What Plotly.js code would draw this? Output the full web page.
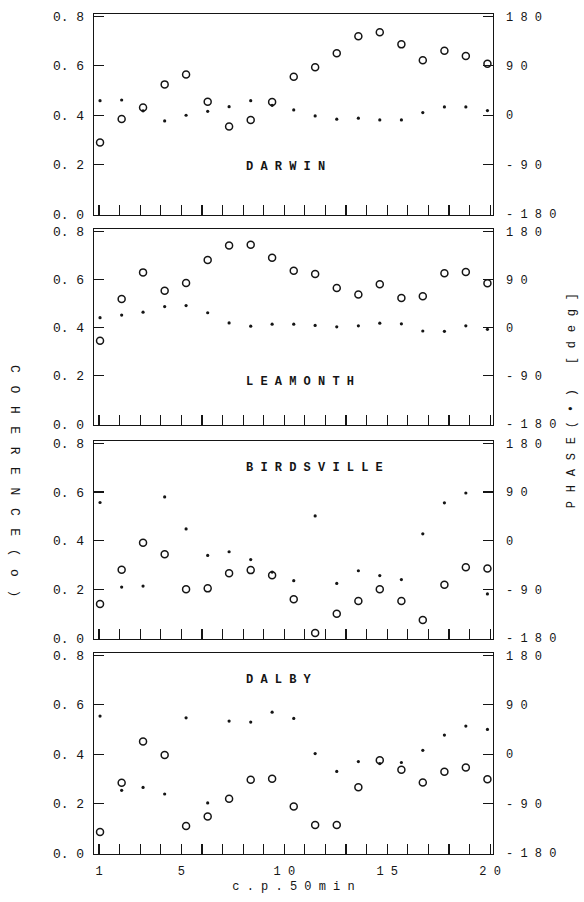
<!DOCTYPE html>
<html><head><meta charset="utf-8">
<script src="https://cdn.plot.ly/plotly-3.0.1.min.js"></script>
<style>html,body{margin:0;padding:0;background:#fff}</style>
</head><body>
<div id="chart" style="width:584px;height:902px"></div>
<script>
// frequency (c.p.50min) of each estimate
const freq = [1.05, 2.10, 3.14, 4.19, 5.23, 6.28, 7.32, 8.37, 9.41, 10.46, 11.50, 12.55, 13.60, 14.64, 15.69, 16.73, 17.78, 18.82, 19.87];
const stations = ['DARWIN', 'LEAMONTH', 'BIRDSVILLE', 'DALBY'];
const darwinCoh = [0.29, 0.385, 0.431, 0.525, 0.565, 0.455, 0.354, 0.381, 0.454, 0.556, 0.594, 0.651, 0.72, 0.736, 0.687, 0.623, 0.661, 0.64, 0.609];
const darwinPhase = [26.6, 27.8, 8, -10.3, 0, 7.2, 15.7, 26.6, 18, 9.7, -1.2, -7.2, -5.4, -8.5, -8.5, 4.8, 15.1, 15.1, 8.5];
const leamonthCoh = [0.346, 0.519, 0.630, 0.554, 0.586, 0.681, 0.742, 0.745, 0.691, 0.637, 0.623, 0.565, 0.538, 0.581, 0.524, 0.531, 0.626, 0.632, 0.585];
const leamonthPhase = [18.9, 23.7, 29.2, 39.5, 41.4, 28, 9.1, 3, 6.7, 6.7, 4.3, 1.8, 3.6, 8.5, 7.3, -6.1, -6.7, 3.6, -3];
const birdsvilleCoh = [0.14, 0.281, 0.392, 0.344, 0.2, 0.204, 0.266, 0.279, 0.258, 0.159, 0.021, 0.1, 0.152, 0.2, 0.152, 0.074, 0.219, 0.291, 0.286];
const birdsvillePhase = [70.7, -85.8, -84, 81, 21.7, -27.2, -20.5, -35, -58, -74, 45.9, -79, -55.6, -64.6, -71.9, 12.7, 70, 88.2, -98.5];
const dalbyCoh = [0.085, 0.285, 0.452, 0.397, 0.109, 0.148, 0.22, 0.297, 0.301, 0.188, 0.113, 0.113, 0.266, 0.376, 0.337, 0.286, 0.329, 0.346, 0.299];
const dalbyPhase = [69.5, -65.8, -60.4, -72.5, 66.4, -88.8, 60.4, 58.6, 76.7, 65.2, 1.2, -31.4, -13.3, -17, -15.1, 7.2, 35, 51.4, 45.3];

const cohTickVals = [0, 0.2, 0.4, 0.6, 0.8];
const cohTickText = ['0. 0', '0. 2', '0. 4', '0. 6', '0. 8'];
const phaseTickVals = [-180, -90, 0, 90, 180];
const phaseTickText = ['- 1 8 0', '- 9 0', '0', '9 0', '1 8 0'];
const xTickVals = [1,2,3,4,5,6,7,8,9,10,11,12,13,14,15,16,17,18,19,20];
const xTickText = ['1','','','','5','','','','','1 0','','','','','1 5','','','','','2 0'];

const cohSeries = [darwinCoh, leamonthCoh, birdsvilleCoh, dalbyCoh];
const phaseSeries = [darwinPhase, leamonthPhase, birdsvillePhase, dalbyPhase];

const INK = '#151515';
const FONT = 'Liberation Mono, DejaVu Sans Mono, monospace';
const cohRange = [-0.004, 0.81];
const phaseRange = [(cohRange[0] - 0.4) * 450, (cohRange[1] - 0.4) * 450];
const domains = [[0.7607, 1], [0.5107, 0.744], [0.256, 0.4917], [0, 0.2393]];
const labelPos = [0.237, 0.221, 0.862, 0.866];

const traces = [];
const layout = {
  width: 584, height: 902,
  margin: {l: 94, r: 91, t: 14, b: 48},
  paper_bgcolor: '#fff', plot_bgcolor: '#fff',
  showlegend: false,
  font: {family: FONT, color: INK, size: 12},
  annotations: []
};

for (let i = 0; i < 4; i++) {
  const xa = i === 0 ? 'x' : 'x' + (i + 1);
  const yl = i === 0 ? 'y' : 'y' + (2 * i + 1);
  const yr = 'y' + (2 * i + 2);
  traces.push({
    x: freq, y: cohSeries[i], xaxis: xa, yaxis: yl, type: 'scatter', mode: 'markers',
    marker: {symbol: 'circle-open', size: 7, color: INK, line: {width: 1.5, color: INK}},
    cliponaxis: false, hoverinfo: 'skip'
  });
  traces.push({
    x: freq, y: phaseSeries[i], xaxis: xa, yaxis: yr, type: 'scatter', mode: 'markers',
    marker: {symbol: 'circle', size: 3.2, color: INK},
    cliponaxis: false, hoverinfo: 'skip'
  });
  const xKey = i === 0 ? 'xaxis' : 'xaxis' + (i + 1);
  const ylKey = i === 0 ? 'yaxis' : 'yaxis' + (2 * i + 1);
  const yrKey = 'yaxis' + (2 * i + 2);
  layout[xKey] = {
    domain: [0, 1], anchor: yl, range: [0.757, 20.14],
    showline: true, mirror: true, linecolor: INK, linewidth: 1.2,
    showgrid: false, zeroline: false,
    ticks: 'inside', ticklen: 10, tickwidth: 1.2, tickcolor: INK,
    tickmode: 'array', tickvals: xTickVals, ticktext: xTickText,
    showticklabels: i === 3, ticklabelstandoff: 5,
    tickfont: {family: FONT, size: 12, color: INK}
  };
  if (i === 3) {
    layout[xKey].title = {text: 'c . p . 5 0 m i n', font: {family: FONT, size: 12, color: INK}, standoff: 4};
  }
  layout[ylKey] = {
    domain: domains[i], anchor: xa, range: cohRange,
    showline: true, mirror: true, linecolor: INK, linewidth: 1.2,
    showgrid: false, zeroline: false,
    ticks: 'inside', ticklen: 10, tickwidth: 1.2, tickcolor: INK,
    tickmode: 'array', tickvals: cohTickVals, ticktext: cohTickText,
    ticklabelstandoff: 6,
    tickfont: {family: FONT, size: 13, color: INK}
  };
  layout[yrKey] = {
    overlaying: yl, side: 'right', anchor: xa, range: phaseRange,
    showline: false, showgrid: false, zeroline: false,
    ticks: 'inside', ticklen: 10, tickwidth: 1.2, tickcolor: INK,
    tickmode: 'array', tickvals: phaseTickVals, ticktext: phaseTickText,
    ticklabelstandoff: 12,
    tickfont: {family: FONT, size: 12, color: INK}
  };
  layout.annotations.push({
    text: '<b>' + stations[i].split('').join(' ') + '</b>',
    xref: xa + ' domain', yref: yl + ' domain',
    x: 0.375, y: labelPos[i], xanchor: 'left', yanchor: 'middle',
    showarrow: false, font: {family: FONT, size: 12, color: INK}
  });
}

layout.annotations.push({
  text: 'C O H E R E N C E ( o )', textangle: 90,
  xref: 'paper', yref: 'paper', x: -0.2, y: 0.443,
  xanchor: 'center', yanchor: 'middle', showarrow: false,
  font: {family: FONT, size: 13, color: INK}
});
layout.annotations.push({
  text: 'P H A S E ( • )   [ d e g ]', textangle: -90,
  xref: 'paper', yref: 'paper', x: 1.198, y: 0.54,
  xanchor: 'center', yanchor: 'middle', showarrow: false,
  font: {family: FONT, size: 12, color: INK}
});

Plotly.newPlot('chart', traces, layout, {staticPlot: true, displayModeBar: false}).then(function () {
  const ann = document.querySelectorAll('#chart .annotation-text');
  if (ann.length >= 6) {
    ann[4].style.letterSpacing = '2.4px';
    ann[5].style.letterSpacing = '0.8px';
  }
});
</script>
</body></html>
